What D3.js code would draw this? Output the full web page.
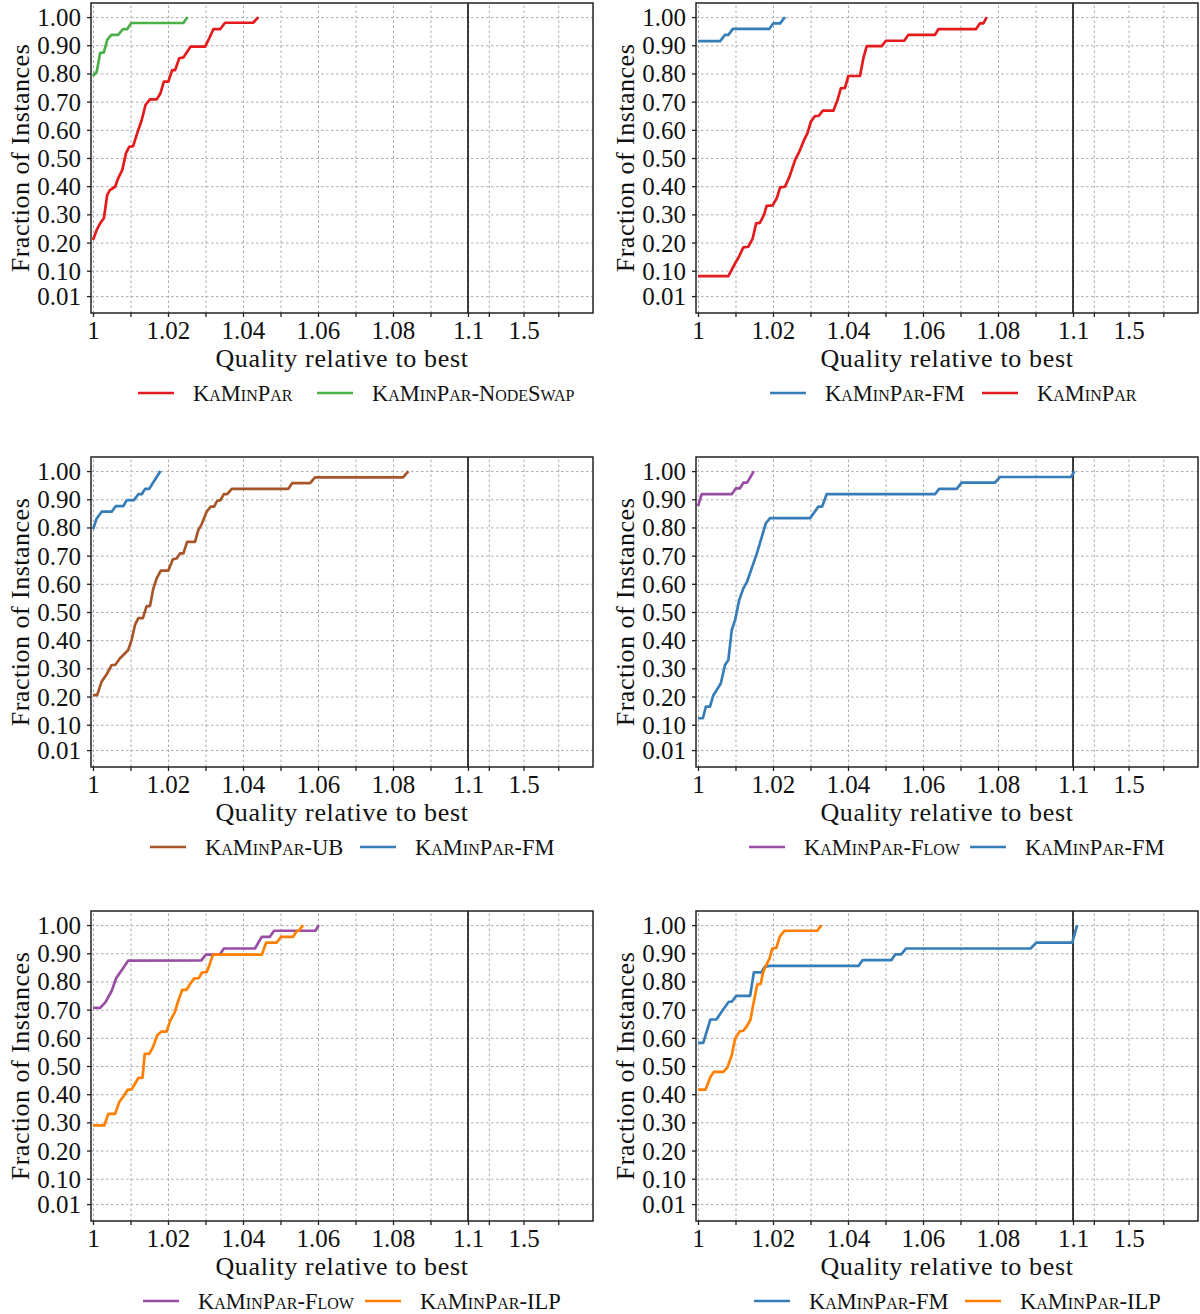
<!DOCTYPE html>
<html>
<head>
<meta charset="utf-8">
<script src="https://cdn.jsdelivr.net/npm/d3@7"></script>
<style>
  body { margin: 0; background: #fff; }
  svg { font-family: "Liberation Serif", "Times New Roman", serif; }
  .grid line { stroke: #ababab; stroke-width: 1; stroke-dasharray: 2.5,2.5; }
  .grid path { display: none; }
  .ax path { display: none; }
  .ax line { stroke: #222; stroke-width: 1.3; }
  .ax text { font-family: "Liberation Serif", serif; font-size: 25px; fill: #111; }
</style>
</head>
<body>
<svg width="1200" height="1314"></svg>
<script>
// tick values
var yTicks = [0.01, 0.1, 0.2, 0.3, 0.4, 0.5, 0.6, 0.7, 0.8, 0.9, 1.0];
var xTicks = [1, 1.01, 1.02, 1.03, 1.04, 1.05, 1.06, 1.07, 1.08, 1.09, 1.1, 1.25, 1.5, 1.75];
var xLabelTicks = [1, 1.02, 1.04, 1.06, 1.08, 1.1, 1.5];
var xLabels = ["1", "1.02", "1.04", "1.06", "1.08", "1.1", "1.5"];

// panel 1
var p1KaMinPar = [[1.0,0.209],[1.001,0.245],[1.0019,0.268],[1.0029,0.286],[1.0038,0.369],[1.0045,0.386],[1.0059,0.398],[1.0067,0.428],[1.0078,0.457],[1.0088,0.517],[1.0097,0.540],[1.0107,0.542],[1.0118,0.588],[1.013,0.635],[1.014,0.688],[1.0152,0.708],[1.017,0.708],[1.018,0.730],[1.0189,0.771],[1.0201,0.771],[1.0211,0.812],[1.0219,0.812],[1.023,0.854],[1.0241,0.857],[1.026,0.895],[1.0299,0.895],[1.031,0.925],[1.0321,0.957],[1.0339,0.957],[1.0352,0.980],[1.0427,0.980],[1.0441,1.0]];
var p1NodeSwap = [[1.0,0.791],[1.001,0.806],[1.0019,0.872],[1.0029,0.875],[1.0038,0.919],[1.0049,0.937],[1.0067,0.937],[1.008,0.957],[1.0091,0.957],[1.0102,0.979],[1.0241,0.979],[1.0252,1.0]];

// panel 2
var p2FM = [[1.0,0.915],[1.0059,0.915],[1.0072,0.937],[1.0081,0.937],[1.0093,0.958],[1.019,0.958],[1.0201,0.978],[1.0219,0.978],[1.0232,1.0]];
var p2KaMinPar = [[1.0,0.081],[1.0081,0.081],[1.0094,0.114],[1.011,0.152],[1.0121,0.183],[1.0134,0.185],[1.0146,0.215],[1.0155,0.268],[1.0165,0.270],[1.0176,0.298],[1.0183,0.330],[1.0199,0.332],[1.021,0.357],[1.0219,0.396],[1.0232,0.398],[1.0244,0.434],[1.0259,0.493],[1.027,0.522],[1.0283,0.564],[1.0292,0.588],[1.0301,0.629],[1.0312,0.649],[1.0321,0.649],[1.0333,0.668],[1.0361,0.668],[1.0372,0.706],[1.0381,0.747],[1.0392,0.749],[1.0401,0.791],[1.0432,0.791],[1.0441,0.854],[1.045,0.897],[1.049,0.897],[1.0501,0.916],[1.055,0.916],[1.0561,0.937],[1.0632,0.937],[1.0641,0.957],[1.0741,0.957],[1.0752,0.978],[1.0761,0.978],[1.077,1.0]];

// panel 3
var p3UB = [[1.0,0.205],[1.0011,0.205],[1.0023,0.253],[1.0037,0.28],[1.005,0.312],[1.0059,0.312],[1.0072,0.336],[1.0085,0.353],[1.0094,0.365],[1.0103,0.401],[1.0112,0.454],[1.0121,0.478],[1.0133,0.478],[1.0143,0.521],[1.0152,0.521],[1.0161,0.584],[1.017,0.62],[1.0181,0.647],[1.0201,0.647],[1.0213,0.687],[1.0223,0.69],[1.0232,0.708],[1.0241,0.708],[1.0251,0.749],[1.0272,0.749],[1.0281,0.791],[1.029,0.812],[1.0303,0.856],[1.0314,0.874],[1.0323,0.874],[1.0331,0.894],[1.034,0.897],[1.0349,0.918],[1.0358,0.918],[1.037,0.937],[1.0521,0.937],[1.0531,0.957],[1.0579,0.957],[1.0592,0.978],[1.0827,0.978],[1.0841,1.0]];
var p3FM = [[1.0,0.793],[1.001,0.832],[1.0023,0.856],[1.005,0.856],[1.0061,0.876],[1.0081,0.876],[1.009,0.897],[1.0109,0.897],[1.0121,0.918],[1.013,0.918],[1.0139,0.937],[1.015,0.937],[1.018,1.0]];

// panel 4
var p4Flow = [[1.0,0.876],[1.001,0.918],[1.009,0.918],[1.0101,0.939],[1.0112,0.939],[1.0121,0.959],[1.0131,0.959],[1.0149,1.0]];
var p4FM = [[1.0,0.123],[1.0013,0.123],[1.0021,0.164],[1.0032,0.164],[1.0041,0.205],[1.005,0.223],[1.0061,0.247],[1.0072,0.312],[1.0081,0.33],[1.009,0.436],[1.0099,0.472],[1.011,0.543],[1.0121,0.584],[1.0131,0.608],[1.0157,0.708],[1.0181,0.815],[1.0192,0.833],[1.0299,0.833],[1.0321,0.874],[1.0331,0.874],[1.0343,0.918],[1.0632,0.918],[1.0643,0.937],[1.069,0.937],[1.0703,0.959],[1.0792,0.959],[1.0805,0.979],[1.0995,0.979],[1.11,1.0]];

// panel 5
var p5Flow = [[1.0,0.706],[1.0019,0.706],[1.0033,0.726],[1.005,0.767],[1.0062,0.812],[1.0077,0.841],[1.0094,0.874],[1.0289,0.875],[1.0301,0.895],[1.0338,0.895],[1.0349,0.917],[1.0432,0.917],[1.045,0.958],[1.0471,0.958],[1.0483,0.98],[1.0593,0.98],[1.0602,1.0]];
var p5ILP = [[1.0,0.289],[1.003,0.289],[1.0041,0.33],[1.0059,0.33],[1.007,0.372],[1.0081,0.392],[1.0092,0.415],[1.0103,0.417],[1.0112,0.437],[1.0121,0.458],[1.0132,0.458],[1.0138,0.543],[1.015,0.543],[1.016,0.567],[1.0171,0.608],[1.0182,0.622],[1.0196,0.622],[1.0206,0.661],[1.0218,0.69],[1.0226,0.726],[1.0238,0.77],[1.0249,0.77],[1.0259,0.791],[1.027,0.811],[1.0282,0.812],[1.0291,0.832],[1.0303,0.833],[1.0312,0.864],[1.032,0.895],[1.045,0.895],[1.0462,0.938],[1.049,0.938],[1.0501,0.958],[1.0533,0.958],[1.0544,0.98],[1.0549,0.98],[1.056,1.0]];

// panel 6
var p6FM = [[1.0,0.582],[1.0014,0.582],[1.0033,0.665],[1.0049,0.665],[1.0064,0.694],[1.0082,0.728],[1.009,0.728],[1.0102,0.749],[1.0139,0.749],[1.0149,0.832],[1.0169,0.832],[1.0178,0.852],[1.0191,0.855],[1.0428,0.855],[1.0439,0.876],[1.0516,0.876],[1.0526,0.896],[1.0542,0.896],[1.0555,0.917],[1.0887,0.917],[1.0902,0.938],[1.0998,0.938],[1.13,1.0]];
var p6ILP = [[1.0,0.416],[1.002,0.416],[1.0033,0.461],[1.0042,0.479],[1.0068,0.479],[1.0079,0.497],[1.009,0.538],[1.0099,0.597],[1.0111,0.623],[1.0121,0.625],[1.0132,0.645],[1.014,0.665],[1.0147,0.716],[1.0158,0.789],[1.0167,0.791],[1.0174,0.834],[1.0182,0.858],[1.0191,0.882],[1.0198,0.917],[1.0209,0.919],[1.0218,0.959],[1.0231,0.98],[1.0318,0.98],[1.0329,1.0]];

var red = "#e41a1c", green = "#4daf4a", blue = "#377eb8",
    purple = "#984ea3", orange = "#ff7f00", brown = "#a65628";

var panels = [
  {col:0, row:0, legendX:[47,226], series:[{name:"KaMinPar", color:red, data:p1KaMinPar},{name:"KaMinPar-NodeSwap", color:green, data:p1NodeSwap}]},
  {col:1, row:0, legendX:[74,286], series:[{name:"KaMinPar-FM", color:blue, data:p2FM},{name:"KaMinPar", color:red, data:p2KaMinPar}]},
  {col:0, row:1, legendX:[59,269], series:[{name:"KaMinPar-UB", color:brown, data:p3UB},{name:"KaMinPar-FM", color:blue, data:p3FM}]},
  {col:1, row:1, legendX:[53,274], series:[{name:"KaMinPar-Flow", color:purple, data:p4Flow},{name:"KaMinPar-FM", color:blue, data:p4FM}]},
  {col:0, row:2, legendX:[52,274], series:[{name:"KaMinPar-Flow", color:purple, data:p5Flow},{name:"KaMinPar-ILP", color:orange, data:p5ILP}]},
  {col:1, row:2, legendX:[58,269], series:[{name:"KaMinPar-FM", color:blue, data:p6FM},{name:"KaMinPar-ILP", color:orange, data:p6ILP}]}
];

var colX = [91, 696], rowY = [3, 457, 911];
var W = 502, H = 310;

var svg = d3.select("svg");
var x = d3.scaleLinear().domain([0.99947, 1.1, 2]).range([0, 377, W]);
var y = d3.scaleLinear().domain([-0.05, 1.05]).range([H, 0]);
var line = d3.line().x(function(d){ return x(d[0]); }).y(function(d){ return y(d[1]); });

panels.forEach(function(p){
    var g = svg.append("g")
        .attr("transform", "translate(" + colX[p.col] + "," + rowY[p.row] + ")");

    // dotted grid
    g.append("g").attr("class", "grid")
        .attr("transform", "translate(0," + H + ")")
        .call(d3.axisBottom(x).tickValues(xTicks).tickSize(-H).tickFormat(""));
    g.append("g").attr("class", "grid")
        .call(d3.axisLeft(y).tickValues(yTicks).tickSize(-W).tickFormat(""));

    // marker at 1.1
    g.append("line")
        .attr("x1", x(1.1)).attr("x2", x(1.1))
        .attr("y1", 0).attr("y2", H)
        .attr("stroke", "#000").attr("stroke-width", 1.5);

    p.series.forEach(function(s){
        g.append("path").datum(s.data)
            .attr("d", line)
            .attr("fill", "none")
            .attr("stroke", s.color)
            .attr("stroke-width", 2.7)
            .attr("stroke-linejoin", "round");
    });

    g.append("rect")
        .attr("width", W).attr("height", H)
        .attr("fill", "none").attr("stroke", "#222").attr("stroke-width", 1.5);

    // axes
    var xa = g.append("g").attr("class", "ax")
        .attr("transform", "translate(0," + H + ")")
        .call(d3.axisBottom(x).tickValues(xTicks).tickSize(4)
            .tickFormat(function(d){
                var i = xLabelTicks.indexOf(d);
                return i < 0 ? "" : xLabels[i];
            }));
    xa.selectAll("text").attr("y", 26).attr("dy", 0);

    var ya = g.append("g").attr("class", "ax")
        .call(d3.axisLeft(y).tickValues(yTicks).tickSize(4).tickFormat(d3.format(".2f")));
    ya.selectAll("text").attr("x", -10).attr("dy", "0.34em");

    // axis titles
    g.append("text")
        .attr("x", W / 2).attr("y", H + 54)
        .attr("text-anchor", "middle")
        .style("font-size", "26px").style("letter-spacing", "0.65px")
        .attr("fill", "#111")
        .text("Quality relative to best");
    g.append("text")
        .attr("transform", "translate(-62," + (H / 2) + ") rotate(-90)")
        .attr("text-anchor", "middle")
        .style("font-size", "26px").style("letter-spacing", "0.5px")
        .attr("fill", "#111")
        .text("Fraction of Instances");

    // legend
    var leg = g.append("g").attr("transform", "translate(0," + (H + 80) + ")");
    p.series.forEach(function(s, i){
        var lx = p.legendX[i];
        leg.append("line")
            .attr("x1", lx).attr("x2", lx + 36)
            .attr("stroke", s.color).attr("stroke-width", 2.7);
        leg.append("text")
            .attr("x", lx + 55).attr("dy", "0.35em")
            .style("font-size", "22.5px").style("font-variant", "small-caps")
            .attr("fill", "#111")
            .text(s.name);
    });
});
</script>
</body>
</html>
